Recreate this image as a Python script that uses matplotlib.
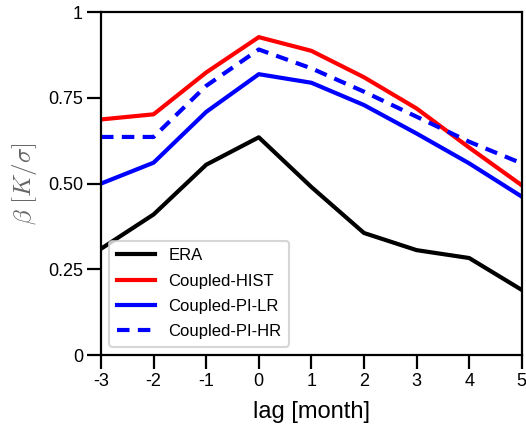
import matplotlib
matplotlib.use("Agg")
import matplotlib.pyplot as plt

plt.rcParams['font.family'] = ['Liberation Sans', 'DejaVu Sans']
plt.rcParams['mathtext.fontset'] = 'cm'

lag = [-3, -2, -1, 0, 1, 2, 3, 4, 5]
era = [0.31, 0.41, 0.555, 0.635, 0.49, 0.356, 0.306, 0.283, 0.19]
hist = [0.687, 0.702, 0.824, 0.927, 0.887, 0.81, 0.719, 0.605, 0.495]
pi_lr = [0.50, 0.561, 0.709, 0.819, 0.794, 0.729, 0.646, 0.559, 0.462]
pi_hr = [0.636, 0.636, 0.785, 0.891, 0.836, 0.768, 0.695, 0.622, 0.559]

yticks = [0, 0.25, 0.5, 0.75, 1]
ytick_labels = ['0', '0.25', '0.50', '0.75', '1']

fig = plt.figure(figsize=(5.26, 4.32), dpi=100)
ax = fig.add_axes([0.192, 0.178, 0.8, 0.794])

lw = 3.0
ax.plot(lag, era, color='black', lw=lw, label='ERA')
ax.plot(lag, hist, color='red', lw=lw, label='Coupled-HIST')
ax.plot(lag, pi_lr, color='blue', lw=lw, label='Coupled-PI-LR')
ax.plot(lag, pi_hr, color='blue', lw=lw, ls=(0, (3, 2)), label='Coupled-PI-HR')

ax.set_xlim(-3, 5)
ax.set_ylim(0, 1)
ax.set_xticks(lag)
ax.set_xticklabels([str(v) for v in lag])
ax.set_yticks(yticks)
ax.set_yticklabels(ytick_labels)
ax.tick_params(direction='out', length=10, width=1.6, labelsize=13, pad=3)
for s in ax.spines.values():
    s.set_linewidth(1.6)

ax.set_xlabel('lag [month]', fontsize=17, labelpad=8)
ax.set_ylabel(r'$\beta\ [K/\sigma]$', fontsize=18, color='#666666', labelpad=6)

leg = ax.legend(loc='lower left', fontsize=12, frameon=True, edgecolor='#cccccc',
                handlelength=2.3, borderaxespad=0.5, labelspacing=0.62,
                borderpad=0.45)
leg.get_frame().set_linewidth(1.5)

fig.savefig('out.png', dpi=100)
